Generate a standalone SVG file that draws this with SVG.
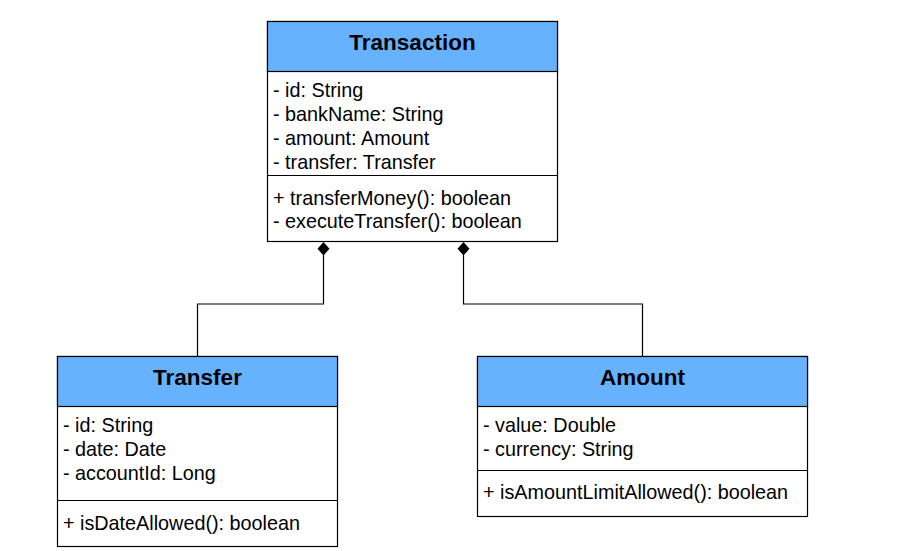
<svg xmlns="http://www.w3.org/2000/svg" width="913" height="551" viewBox="0 0 913 551">
<style>
.box{fill:#ffffff;stroke:#000000;stroke-width:1.2}
.hdr{fill:#66b2ff;stroke:#000000;stroke-width:1.2}
.sep{stroke:#000000;stroke-width:1.2}
.title{font-family:"Liberation Sans",Arial,Helvetica,sans-serif;font-size:22.5px;font-weight:bold;fill:#000000;text-anchor:middle}
.txt{font-family:"Liberation Sans",Arial,Helvetica,sans-serif;font-size:19.8px;fill:#000000}
.conn{fill:none;stroke:#000000;stroke-width:1.2}
</style>
<defs>
<marker id="diamond" markerWidth="14" markerHeight="14" refX="7" refY="1" orient="0" markerUnits="userSpaceOnUse" viewBox="0 0 14 14">
<path d="M7 0 L13 6.7 L7 13.4 L1 6.7 Z" fill="#000000"/>
</marker>
</defs>
<rect width="913" height="551" fill="#ffffff"/>
<g id="connectors">
<path class="conn" d="M323.5 255 V304 H197.5 V356"/>
<path class="conn" d="M463.5 255 V304 H642.5 V356"/>
<path d="M323.5 242 L329.5 248.7 L323.5 255.4 L317.5 248.7 Z" fill="#000000"/>
<path d="M463.5 242 L469.5 248.7 L463.5 255.4 L457.5 248.7 Z" fill="#000000"/>
</g>
<g id="transaction">
<rect class="box" x="267.5" y="21.5" width="290" height="220"/>
<rect class="hdr" x="267.5" y="21.5" width="290" height="50"/>
<line class="sep" x1="267.5" y1="175.5" x2="557.5" y2="175.5"/>
<text class="title" x="412.5" y="50">Transaction</text>
<text class="txt" x="273" y="97">- id: String</text>
<text class="txt" x="273" y="121">- bankName: String</text>
<text class="txt" x="273" y="145">- amount: Amount</text>
<text class="txt" x="273" y="168.5">- transfer: Transfer</text>
<text class="txt" x="273" y="204.5">+ transferMoney(): boolean</text>
<text class="txt" x="273" y="228">- executeTransfer(): boolean</text>
</g>
<g id="transfer">
<rect class="box" x="57.5" y="356.5" width="280" height="190"/>
<rect class="hdr" x="57.5" y="356.5" width="280" height="50"/>
<line class="sep" x1="57.5" y1="500.5" x2="337.5" y2="500.5"/>
<text class="title" x="197.5" y="385">Transfer</text>
<text class="txt" x="63" y="432">- id: String</text>
<text class="txt" x="63" y="455.5">- date: Date</text>
<text class="txt" x="63" y="479.5">- accountId: Long</text>
<text class="txt" x="63" y="529.5">+ isDateAllowed(): boolean</text>
</g>
<g id="amount">
<rect class="box" x="477.5" y="356.5" width="330" height="160"/>
<rect class="hdr" x="477.5" y="356.5" width="330" height="50"/>
<line class="sep" x1="477.5" y1="470.5" x2="807.5" y2="470.5"/>
<text class="title" x="642.5" y="385">Amount</text>
<text class="txt" x="483" y="432">- value: Double</text>
<text class="txt" x="483" y="455.5">- currency: String</text>
<text class="txt" x="483" y="498.5">+ isAmountLimitAllowed(): boolean</text>
</g>
</svg>
